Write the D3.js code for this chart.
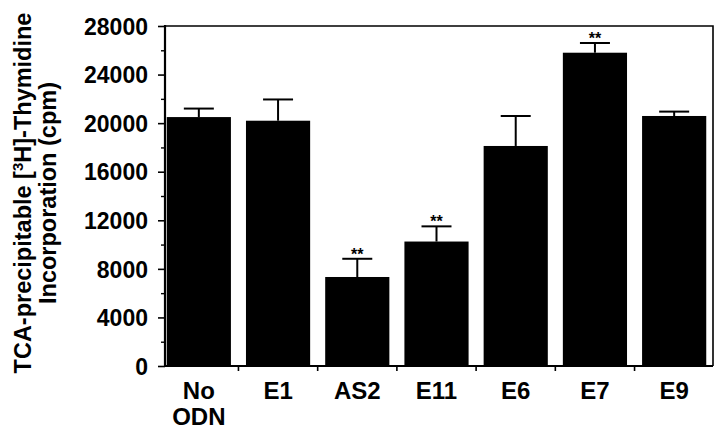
<!DOCTYPE html>
<html>
<head>
<meta charset="utf-8">
<script src="https://cdn.jsdelivr.net/npm/d3@7"></script>
<style>
  body { margin: 0; background: #fff; }
  text { font-family: "Liberation Sans", Arial, sans-serif; font-weight: bold; fill: #000; }
</style>
</head>
<body>
<div id="chart"></div>
<script>
// data
const categories = ['No ODN', 'E1', 'AS2', 'E11', 'E6', 'E7', 'E9'];
const means = [20500, 20200, 7330, 10250, 18120, 25800, 20590];
const errors = [700, 1750, 1500, 1250, 2470, 800, 360];
const significant = [false, false, true, true, false, true, false];
const yTicks = [0, 4000, 8000, 12000, 16000, 20000, 24000, 28000];
const yMinorTicks = [2000, 6000, 10000, 14000, 18000, 22000, 26000];

const width = 720, height = 430;
const margin = { top: 26, right: 7, bottom: 64, left: 165 };

const svg = d3.select('#chart').append('svg')
    .attr('width', width)
    .attr('height', height);

// scales
const x = d3.scaleBand()
    .domain(categories)
    .range([margin.left - 3, width - margin.right - 2])
    .paddingInner(0.19)
    .paddingOuter(0.06);

const y = d3.scaleLinear()
    .domain([0, 28000])
    .range([height - margin.bottom, margin.top]);

const x0 = margin.left, x1 = width - margin.right;
const yb = y(0), yt = y(28000);

// frame (top and right)
svg.append('path')
    .attr('d', `M${x0},${yt}H${x1}V${yb}`)
    .attr('fill', 'none')
    .attr('stroke', '#000')
    .attr('stroke-width', 1.6);

// bars
svg.append('g')
    .selectAll('rect')
    .data(categories)
    .enter()
    .append('rect')
    .attr('x', d => x(d))
    .attr('width', x.bandwidth())
    .attr('y', (d, i) => y(means[i]))
    .attr('height', (d, i) => y(0) - y(means[i]))
    .attr('fill', '#000');

// error bars (upper only)
const eb = svg.append('g').attr('stroke', '#000').attr('stroke-width', 2);
categories.forEach((c, i) => {
    const cx = x(c) + x.bandwidth() / 2;
    eb.append('line')
        .attr('x1', cx).attr('x2', cx)
        .attr('y1', y(means[i])).attr('y2', y(means[i] + errors[i]));
    eb.append('line')
        .attr('x1', cx - 15).attr('x2', cx + 15)
        .attr('y1', y(means[i] + errors[i])).attr('y2', y(means[i] + errors[i]));
});

// significance stars
svg.append('g')
    .selectAll('text')
    .data(categories.filter((c, i) => significant[i]))
    .enter()
    .append('text')
    .attr('x', d => x(d) + x.bandwidth() / 2)
    .attr('y', d => {
        const i = categories.indexOf(d);
        return y(means[i] + errors[i]) + 1;
    })
    .attr('text-anchor', 'middle')
    .style('font-size', '16px')
    .text('**');

// y axis
const yAxis = svg.append('g')
    .attr('transform', `translate(${x0},0)`)
    .call(d3.axisLeft(y).tickValues(yTicks).tickSize(7).tickPadding(10).tickFormat(d3.format('d')));
yAxis.select('.domain').remove();
yAxis.selectAll('.tick line').attr('stroke-width', 1.6);
yAxis.selectAll('text')
    .style('font-size', '23px')
    .style('font-family', '"Liberation Sans", Arial, sans-serif')
    .style('font-weight', 'bold')
    .attr('dy', '0.36em');

svg.append('g')
    .attr('transform', `translate(${x0},0)`)
    .call(d3.axisLeft(y).tickValues(yMinorTicks).tickSize(4).tickFormat(''))
    .call(g => g.select('.domain').remove())
    .selectAll('.tick line').attr('stroke-width', 1.4);

svg.append('line')
    .attr('x1', x0).attr('x2', x0)
    .attr('y1', yt - 1).attr('y2', yb + 1)
    .attr('stroke', '#000').attr('stroke-width', 2.2);

// x axis
const bounds = categories.slice(1).map(c => x(c) - x.step() * x.paddingInner() / 2);
const xg = svg.append('g');
xg.append('line')
    .attr('x1', x0).attr('x2', x1)
    .attr('y1', yb).attr('y2', yb)
    .attr('stroke', '#000').attr('stroke-width', 2.2);
xg.selectAll('line.tk')
    .data(bounds)
    .enter()
    .append('line')
    .attr('class', 'tk')
    .attr('x1', d => d).attr('x2', d => d)
    .attr('y1', yb).attr('y2', yb + 5)
    .attr('stroke', '#000').attr('stroke-width', 1.6);

const xl = xg.selectAll('text.xl')
    .data(categories)
    .enter()
    .append('text')
    .attr('class', 'xl')
    .attr('x', d => x(d) + x.bandwidth() / 2)
    .attr('y', yb + 33)
    .attr('text-anchor', 'middle')
    .style('font-size', '24px');
xl.each(function(d) {
    const words = d.split(' ');
    const t = d3.select(this);
    words.forEach((w, k) => {
        t.append('tspan')
            .attr('x', x(d) + x.bandwidth() / 2)
            .attr('dy', k === 0 ? 0 : 26)
            .text(w);
    });
});

// y title
const title = svg.append('text')
    .attr('transform', `translate(31,${(yt + yb) / 2 - 3}) rotate(-90)`)
    .attr('text-anchor', 'middle')
    .style('font-size', '23.5px');
title.append('tspan').text('TCA-precipitable [');
title.append('tspan').attr('dy', -8).style('font-size', '15px').text('3');
title.append('tspan').attr('dy', 8).text('H]-Thymidine');
svg.append('text')
    .attr('transform', `translate(56,${(yt + yb) / 2 - 3}) rotate(-90)`)
    .attr('text-anchor', 'middle')
    .style('font-size', '23.5px')
    .text('Incorporation (cpm)');
</script>
</body>
</html>
